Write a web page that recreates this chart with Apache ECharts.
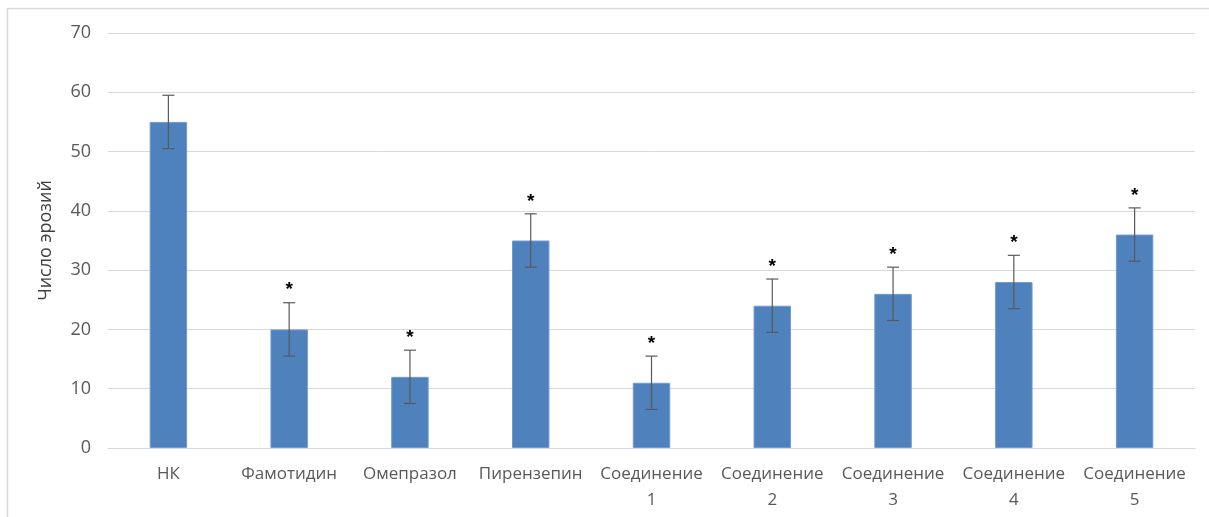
<!DOCTYPE html>
<html><head><meta charset="utf-8">
<script src="https://cdn.jsdelivr.net/npm/echarts@6/dist/echarts.min.js"></script>
<style>html,body{margin:0;padding:0;background:#fff}#c{width:1209px;height:517px}</style>
</head><body><div id="c"></div>
<script>
const categories = ['НК','Фамотидин','Омепразол','Пирензепин','Соединение\n1','Соединение\n2','Соединение\n3','Соединение\n4','Соединение\n5'];
const values = [55, 20, 12, 35, 11, 24, 26, 28, 36];
const errors = [4.5, 4.5, 4.5, 4.5, 4.5, 4.5, 4.5, 4.5, 4.5];
const marks = ['', '*', '*', '*', '*', '*', '*', '*', '*'];
const yTicks = [0, 10, 20, 30, 40, 50, 60, 70];

const chart = echarts.init(document.getElementById('c'));
const errData = values.map((v, i) => [i, v - errors[i], v + errors[i], marks[i]]);
chart.setOption({
  animation: false,
  graphic: [{type:'rect', shape:{x:7.5, y:8.5, width:1210, height:530}, style:{fill:'none', stroke:'#d9d9d9', lineWidth:1.5}, silent:true}],
  grid: {left:108, right:14, top:33, bottom:69},
  xAxis: {
    type:'category', data: categories,
    axisLine:{show:true, lineStyle:{color:'#d9d9d9', width:1}},
    axisTick:{show:false},
    axisLabel:{color:'#595959', fontSize:17, fontFamily:'Open Sans', margin:13, lineHeight:26, interval:0}
  },
  yAxis: {
    type:'value', min:yTicks[0], max:yTicks[yTicks.length-1], interval:10,
    name:'Число эрозий', nameLocation:'middle', nameGap:53, nameRotate:90,
    nameTextStyle:{color:'#404040', fontSize:18, fontFamily:'Open Sans'},
    axisLine:{show:false}, axisTick:{show:false},
    axisLabel:{color:'#595959', fontSize:18, fontFamily:'Open Sans', margin:17},
    splitLine:{lineStyle:{color:'#d9d9d9', width:1}}
  },
  series: [
    {type:'bar', data: values, barWidth:'31%',
     itemStyle:{color:'#4f81bd', borderColor:'#6f9bd0', borderWidth:1}},
    {type:'custom', data: errData, z:10,
     renderItem: function(params, api){
       const x = api.coord([api.value(0), 0])[0];
       const lo = api.coord([api.value(0), api.value(1)])[1];
       const hi = api.coord([api.value(0), api.value(2)])[1];
       const hw = 6;
       const st = {stroke:'#595959', lineWidth:1.2};
       const ch = [
         {type:'line', shape:{x1:x, y1:lo, x2:x, y2:hi}, style:st},
         {type:'line', shape:{x1:x-hw, y1:lo, x2:x+hw, y2:lo}, style:st},
         {type:'line', shape:{x1:x-hw, y1:hi, x2:x+hw, y2:hi}, style:st}
       ];
       const m = errData[params.dataIndex][3];
       if (m) ch.push({type:'text', x:x, y:hi-3, style:{text:m, fill:'#000', font:'bold 19px "Liberation Sans"', align:'center', verticalAlign:'bottom'}});
       return {type:'group', children: ch};
     }}
  ]
});
</script></body></html>
